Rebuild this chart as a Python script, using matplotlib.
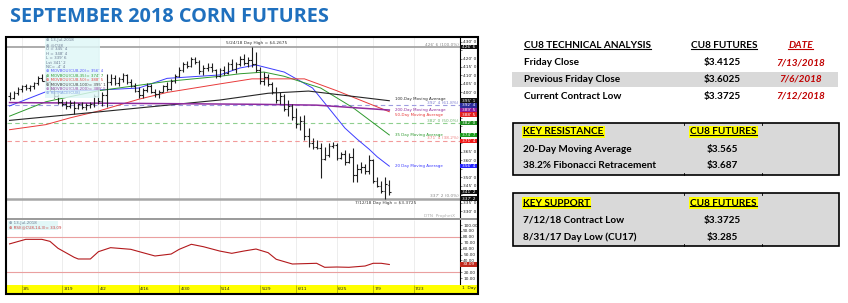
import matplotlib
matplotlib.use("Agg")
import matplotlib.pyplot as plt
import matplotlib.patches as mpatches
from matplotlib.lines import Line2D
import numpy as np
import pandas as pd

# ------------------------------------------------------------------ data
title = "SEPTEMBER 2018 CORN FUTURES"
holidays = ["2018-03-30", "2018-05-28", "2018-07-04"]
first_day, axis_end = "2018-02-28", "2018-07-31"

# daily OHLC in cents, 2/28 .. 7/13
opens = [398, 397, 399.5, 402, 403.5, 402.5, 403.75, 405.5, 408.5, 407, 406, 402, 398, 394.5, 393, 392, 394, 391, 393, 391.5, 392.5, 393,
         398, 395, 398.5, 406, 408.5, 405.5, 408, 410, 406, 404, 401, 398.5, 401.5, 404, 400.5, 399, 400.5, 403.5, 402, 407, 409.5,
         413.5, 416.5, 415.5, 419.5, 418, 412.5, 414.5, 415, 413, 409.5, 413.5, 411.5, 417, 414, 416.5, 420, 417.5, 419, 417, 413.5, 407, 409,
         405, 400.5, 395.5, 398, 390.5, 392, 385.5, 381.5, 383, 374, 370, 368, 367.5, 361, 363, 368.5, 369, 361.5, 363.5, 359, 362,
         351, 355, 356, 353.5, 360.25, 348, 345, 342, 345.5]
highs = [400, 401, 403, 404.5, 405, 404.5, 406, 409.5, 411, 410, 407, 403, 399, 396, 395, 395.5, 395, 394, 394.5, 393.5, 394.5, 399,
         403, 400, 411, 411, 410.5, 409, 411.5, 411, 408, 405.5, 403, 402.5, 405.5, 405, 402, 401.5, 404.5, 406, 408, 411, 415,
         418, 418.5, 421, 421, 419, 416, 417.5, 417.5, 414, 414.5, 415.5, 418, 419.5, 418, 421.5, 422.5, 421, 426.75, 424, 415, 412, 411,
         406, 403, 400, 399, 395.5, 393, 391, 386, 386.5, 379, 373, 372, 370, 368, 370, 371, 370, 365, 366, 364, 367,
         358, 359, 358, 363, 360.5, 350, 348, 350, 348.5]
lows = [395.5, 396, 398.5, 400, 401.5, 401, 402, 404.5, 406.5, 405, 401, 397, 393, 392, 390.5, 391, 387.5, 390, 390, 389.5, 391, 391.5,
        393, 392, 391.5, 404.5, 404.5, 403.5, 406, 405, 403, 400, 397, 396.5, 400.5, 399.5, 397.5, 397, 400, 401, 401.5, 405.5, 409,
        412, 414.5, 415, 416.5, 411, 410, 412.5, 412, 408.5, 409, 410.5, 411, 413, 411.5, 415.5, 416, 415, 415, 412, 405, 404.5, 404,
        399, 394, 393, 389, 386, 384, 379, 378, 372, 368, 366.5, 366.5, 349.5, 360, 362, 367.5, 360, 361, 357, 358.5, 347,
        347, 352.5, 352, 352, 346.5, 344, 340.5, 337.25, 339.75]
closes = [397, 399.5, 402, 403.5, 402.5, 403.75, 405.5, 408.5, 407, 406, 402, 398, 394.5, 393, 392, 394, 391, 393, 391.5, 392.5, 393, 398,
          395, 398.5, 406, 408.5, 405.5, 408, 410, 406, 404, 401, 398.5, 401.5, 404, 400.5, 399, 400.5, 403.5, 402, 407, 409.5, 413.5,
          416.5, 415.5, 419.5, 418, 412.5, 414.5, 415, 413, 409.5, 413.5, 411.5, 417, 414, 416.5, 420, 417.5, 419, 417, 413.5, 407, 409, 405,
          400.5, 395.5, 398, 390.5, 392, 385.5, 381.5, 383, 374, 370, 368, 367.5, 361, 363, 368.5, 369, 361.5, 363.5, 359, 362, 351,
          355, 356, 353.5, 360.25, 348, 345, 342, 345.75, 341.25]

# moving averages (cents)
ma20_dates = ["2018-02-28", "2018-03-13", "2018-04-02", "2018-04-16", "2018-04-25", "2018-05-14", "2018-05-21", "2018-05-25",
              "2018-06-06", "2018-06-15", "2018-06-21", "2018-06-27", "2018-07-02", "2018-07-06", "2018-07-10", "2018-07-13"]
ma20_vals = [392, 400.4, 401.4, 402.6, 408.3, 410.3, 414.4, 416.2, 412, 402.6, 390.8, 379, 372.5, 366.5, 362, 356.5]
ma35_dates = ["2018-02-28", "2018-03-13", "2018-04-02", "2018-04-25", "2018-05-14", "2018-05-21", "2018-05-30", "2018-06-06",
              "2018-06-19", "2018-06-29", "2018-07-13"]
ma35_vals = [386, 394.5, 401, 406.5, 409.5, 411, 412, 409.5, 402.6, 391, 374.9]
ma50_dates = ["2018-02-28", "2018-03-13", "2018-03-21", "2018-04-02", "2018-04-16", "2018-04-25", "2018-05-14", "2018-05-24",
              "2018-06-13", "2018-06-25", "2018-07-13"]
ma50_vals = [378, 381, 385, 389, 396, 400, 405, 408, 408, 401, 388.6]
ma100_dates = ["2018-02-28", "2018-04-02", "2018-05-14", "2018-05-31", "2018-06-14", "2018-07-13"]
ma100_vals = [383.5, 388.5, 395.5, 399.5, 400.8, 395.1]
ma200_dates = ["2018-02-28", "2018-04-16", "2018-05-25", "2018-06-18", "2018-07-13"]
ma200_vals = [394, 393.5, 393, 392.5, 389.6]

fib_vals = [426.75, 392.56, 382.0, 371.44, 337.25]
fib_pcts = ["100.0%", "61.8%", "50.0%", "38.2%", "0.0%"]

rsi_dates = ["2018-02-28", "2018-03-06", "2018-03-12", "2018-03-14", "2018-03-16", "2018-03-22", "2018-03-23", "2018-03-28",
             "2018-04-02", "2018-04-05", "2018-04-12", "2018-04-17", "2018-04-20", "2018-04-26", "2018-04-30", "2018-05-03",
             "2018-05-08", "2018-05-14", "2018-05-17", "2018-05-22", "2018-05-25", "2018-05-31", "2018-06-04", "2018-06-08",
             "2018-06-18", "2018-06-20", "2018-06-25", "2018-06-28", "2018-07-05", "2018-07-09", "2018-07-11", "2018-07-13"]
rsi_vals = [68, 75.7, 75.7, 72.3, 60.5, 45.2, 42.4, 42.4, 54.8, 61.6, 58.8, 53.1, 47.5, 50.8, 58.8, 67.3,
            63.2, 55.9, 52, 55.9, 59.3, 53.1, 41.9, 33.9, 35.1, 28.3, 28.8, 28.3, 30.5, 35.1, 35.1, 33.09]
rsi_bands = [80, 20]

date_ticks = ["2018-03-05", "2018-03-19", "2018-04-02", "2018-04-16", "2018-04-30", "2018-05-14",
              "2018-05-29", "2018-06-11", "2018-06-25", "2018-07-09", "2018-07-23"]
date_labels = ["3/5", "3/19", "4/2", "4/16", "4/30", "5/14", "5/29", "6/11", "6/25", "7/9", "7/23"]
price_ticks = list(range(330, 431, 5))
rsi_ticks = list(range(10, 101, 10))

high_note = "5/24/18 Day High = $4.2675"
low_note = "7/12/18 Day High = $3.3725"

ta_header = ["CU8 TECHNICAL ANALYSIS", "CU8 FUTURES", "DATE"]
ta_rows = [("Friday Close", "$3.4125", "7/13/2018"),
           ("Previous Friday Close", "$3.6025", "7/6/2018"),
           ("Current Contract Low", "$3.3725", "7/12/2018")]
res_header = ["KEY RESISTANCE", "CU8 FUTURES"]
res_rows = [("20-Day Moving Average", "$3.565"), ("38.2% Fibonacci Retracement", "$3.687")]
sup_header = ["KEY SUPPORT", "CU8 FUTURES"]
sup_rows = [("7/12/18 Contract Low", "$3.3725"), ("8/31/17 Day Low (CU17)", "$3.285")]

# ------------------------------------------------------------------ helpers
W, H = 848, 303
fig = plt.figure(figsize=(W / 100, H / 100), dpi=100)
fig.patch.set_facecolor("white")


def fx(x):
    return x / W


def fy(y):
    return 1 - y / H


def axes_px(x0, y0, x1, y1):
    return fig.add_axes([fx(x0), fy(y1), (x1 - x0) / W, (y1 - y0) / H])


def eighths(v):
    sign = "-" if v < 0 else ""
    v = abs(v)
    whole = int(np.floor(v + 1e-9))
    frac = int(round((v - whole) * 8))
    if frac == 8:
        whole, frac = whole + 1, 0
    return f"{sign}{whole}' {frac}"


def fig_rect(x0, y0, x1, y1, **kw):
    r = mpatches.Rectangle((fx(x0), fy(y1)), (x1 - x0) / W, (y1 - y0) / H,
                           transform=fig.transFigure, **kw)
    fig.add_artist(r)
    return r


days = pd.bdate_range(first_day, axis_end)
days = days[~days.isin(pd.to_datetime(holidays))]
pos = {d.strftime("%Y-%m-%d"): i for i, d in enumerate(days)}


def xi(dates):
    return np.array([pos[d] for d in dates], dtype=float)


n = len(opens)
xs = np.arange(n)
PX0, PXW = 9.56, 4.04          # pixel position of bar 0, pixels per bar


def xlim_px(L, R):
    return ((L - PX0) / PXW, (R - PX0) / PXW)


TINY = 3.1

# ------------------------------------------------------------------ price panel
axp = axes_px(7, 37, 460, 217.5)
axp.set_xlim(*xlim_px(7, 460))
axp.set_ylim(326.2, 432.7)
for s in ["left", "top", "bottom"]:
    axp.spines[s].set_visible(False)
axp.spines["right"].set_linewidth(0.8)
axp.set_xticks([])
axp.yaxis.tick_right()
axp.tick_params(axis="y", labelsize=TINY, length=1.5, width=0.4, pad=0.8, colors="#222222")

tick_x = xi(date_ticks)
axp.vlines(tick_x, 326.2, 432.7, color="#e6e6e6", lw=0.5, zorder=0)

fib_colors = ["#a6a6a6", "#9d9de0", "#8fcf8f", "#f29a9a", "#a6a6a6"]
fib_text_colors = ["#8a8a8a", "#7f7fd0", "#6fb56f", "#ee7f7f", "#8a8a8a"]
for v, p, c, tc in zip(fib_vals, fib_pcts, fib_colors, fib_text_colors):
    if p in ("100.0%", "0.0%"):
        axp.axhline(v, color=c, lw=1.3 if p == "100.0%" else 1.8, zorder=1)
    else:
        axp.axhline(v, color=c, lw=0.8, dashes=(4, 3), zorder=1)
    axp.annotate(f"{eighths(v)} ({p})", xy=(0.997, v), xycoords=axp.get_yaxis_transform(),
                 xytext=(0, 0.3), textcoords="offset points", ha="right", va="bottom",
                 fontsize=TINY, color=tc)

# OHLC bars
bar_col = "#1e1e1e"
axp.vlines(xs, lows, highs, color=bar_col, lw=0.8, zorder=3)
axp.hlines(opens, xs - 0.42, xs, color=bar_col, lw=0.8, zorder=3)
axp.hlines(closes, xs, xs + 0.42, color=bar_col, lw=0.8, zorder=3)

ma_specs = [
    ("20 Day Moving Average", ma20_dates, ma20_vals, "#3b3bff", 0.7),
    ("35 Day Moving Average", ma35_dates, ma35_vals, "#2e9a2e", 0.7),
    ("50-Day Moving Average", ma50_dates, ma50_vals, "#e83a3a", 0.7),
    ("100-Day Moving Average", ma100_dates, ma100_vals, "#262626", 0.8),
    ("200-Day Moving Average", ma200_dates, ma200_vals, "#8e2a9e", 1.1),
]
for name, d, v, c, lw in ma_specs:
    axp.plot(xi(d), v, color=c, lw=lw, zorder=2)

# MA labels near right end (stacked so they do not overlap)
lab_items = sorted([(v[-1], name, c) for name, d, v, c, lw in ma_specs], reverse=True)
prev = None
for val, name, c in lab_items:
    if prev is None:
        y = val + 1.3
    else:
        y = min(val, prev - 2.66)
    prev = y
    axp.text(n + 0.3, y, name, fontsize=2.85, color=c, ha="left", va="center", zorder=4)

# value boxes on the right axis
last_close = closes[-1]
box_items = [
    (fib_vals[0], "#111111"), (ma100_vals[-1], "#111111"), (fib_vals[1], "#2b2b9a"),
    (ma200_vals[-1], "#8b1a9b"), (ma50_vals[-1], "#e32020"), (fib_vals[2], "#1b8a1b"),
    (ma35_vals[-1], "#1b9a1b"), (fib_vals[3], "#f01818"), (ma20_vals[-1], "#2424ff"),
    (last_close, "#111111"), (fib_vals[4], "#111111"),
]
box_items.sort(key=lambda t: -t[0])
ytr = axp.get_yaxis_transform()
bw = 16.5 / 453
bh = 2.7
prev = None
box_pos = []
for val, c in box_items:
    y = val if prev is None else min(val, prev - 2.75)
    prev = y
    box_pos.append(y)
    axp.add_patch(mpatches.Rectangle((1.0, y - bh / 2), bw, bh, transform=ytr,
                                     fc=c, ec="none", clip_on=False, zorder=6))
    axp.text(1.0 + bw / 2, y, eighths(val), transform=ytr, ha="center", va="center",
             fontsize=TINY, color="white", clip_on=False, zorder=7)

# axis labels hidden where a value box sits on top of them
axp.set_yticks(price_ticks)
axp.set_yticklabels(["" if min(abs(t - b) for b in box_pos) < 2.2 else eighths(t) for t in price_ticks])

# notes
hi_i = int(np.argmax(highs))
lo_i = int(np.argmin(lows))
axp.annotate(high_note, xy=(hi_i, highs[hi_i]), xytext=(3.6, 1.2), textcoords="offset points",
             ha="center", va="bottom", fontsize=TINY, color="#333333")
axp.annotate(low_note, xy=(lo_i, lows[lo_i]), xytext=(0, -1.4), textcoords="offset points",
             ha="center", va="top", fontsize=TINY, color="#333333")
fig.text(fx(455), fy(215.5), "DTN  ProphetX", fontsize=TINY, color="#b0b0b0", ha="right", va="center")

# legend box (top left)
fig_rect(45, 37.5, 100, 98, fc="#dff7f7", ec="none", alpha=0.82, zorder=5)
prev_close = closes[-2]
leg_lines = [
    ("\u2295 13-Jul-2018", "#6a7890"),
    ("\u2295 @CU8", "#6a7890"),
    (f"O = {eighths(opens[-1])}", "#6a7890"),
    (f"H = {eighths(highs[-1])}", "#6a7890"),
    (f"L = {eighths(lows[-1])}", "#6a7890"),
    (f"Lst {eighths(last_close)}", "#6a7890"),
    (f"NC= {eighths(last_close - prev_close)}", "#6a7890"),
    (f"\u2295 MOVBOU(CU8,20)= {eighths(ma20_vals[-1])}", "#5a5aff"),
    (f"\u2295 MOVBOU(CU8,35)= {eighths(ma35_vals[-1])}", "#3aa03a"),
    (f"\u2295 MOVBOU(CU8,50)= {eighths(ma50_vals[-1])}", "#e84a4a"),
    (f"\u2295 MOVBOU(CU8,100)= {eighths(ma100_vals[-1])}", "#444444"),
    (f"\u2295 MOVBOU(CU8,200)= {eighths(ma200_vals[-1])}", "#9a4aaa"),
    ("\u2295 RETRACE(CU8)", "#7fa0e0"),
]
for k, (s, c) in enumerate(leg_lines):
    fig.text(fx(46.5), fy(40.5 + 4.4 * k), s, fontsize=2.9, color=c, ha="left", va="center", zorder=6)

# ------------------------------------------------------------------ RSI panel
axr = axes_px(7, 220, 460, 284.5)
axr.set_xlim(*xlim_px(7, 460))
axr.set_ylim(-0.85, 108.5)
for s in ["left", "top", "bottom"]:
    axr.spines[s].set_visible(False)
axr.spines["right"].set_linewidth(0.8)
axr.set_xticks([])
axr.yaxis.tick_right()
axr.set_yticks(rsi_ticks)
axr.set_yticklabels(["" if abs(v - rsi_vals[-1]) < 5 else f"{v:.2f}" for v in rsi_ticks])
axr.tick_params(axis="y", labelsize=TINY, length=1.5, width=0.4, pad=0.8, colors="#222222")
axr.vlines(tick_x, -0.85, 108.5, color="#e6e6e6", lw=0.5, zorder=0)
for b in rsi_bands:
    axr.axhline(b, color="#eaa0a0", lw=0.8, zorder=1)
axr.plot(xi(rsi_dates), rsi_vals, color="#b3191c", lw=0.8, zorder=3)
rtr = axr.get_yaxis_transform()
axr.add_patch(mpatches.Rectangle((1.0, rsi_vals[-1] - 3.6), bw, 7.2, transform=rtr,
                                 fc="#c0281c", ec="none", clip_on=False, zorder=6))
axr.text(1.0 + bw / 2, rsi_vals[-1], f"{rsi_vals[-1]:.2f}", transform=rtr, ha="center", va="center",
         fontsize=TINY, color="white", clip_on=False, zorder=7)
fig_rect(7.5, 220.5, 58, 230, fc="#dff7f7", ec="none", alpha=0.9, zorder=5)
fig.text(fx(9), fy(222.6), "\u2295 13-Jul-2018", fontsize=2.9, color="#6a7890", va="center", zorder=6)
fig.text(fx(9), fy(227.3), f"\u2295 RSI(@CU8,14,3)= {rsi_vals[-1]:.2f}", fontsize=2.9,
         color="#c84040", va="center", zorder=6)

# ------------------------------------------------------------------ date strip
axd = axes_px(7, 284.5, 477, 292.5)
axd.set_facecolor("#ffff00")
axd.set_xlim(*xlim_px(7, 477))
axd.set_ylim(0, 1)
for s in axd.spines.values():
    s.set_visible(False)
axd.set_xticks([])
axd.set_yticks([])
axd.vlines(tick_x, 0, 1, color="#8a8a00", lw=0.4)
for tx, lab in zip(tick_x, date_labels):
    axd.text(tx + 0.35, 0.5, lab, fontsize=TINY, va="center", ha="left", color="#222222")
axd.text(xlim_px(7, 477)[1] - 0.4, 0.5, "1  Day", fontsize=TINY, va="center", ha="right", color="#222222")

# separators and frame
fig_rect(7, 217.5, 477, 220, fc="#9c9c9c", ec="none", zorder=4)
fig_rect(5.5, 36.5, 477.5, 293.5, fc="none", ec="black", lw=1.5, zorder=8)

# ------------------------------------------------------------------ title
fig.text(fx(9.5), fy(17.5), title, fontfamily="Open Sans", fontweight="bold", fontsize=14.3,
         color="#1f70be", va="center", ha="left")

# ------------------------------------------------------------------ tables
TF = "Lato"
TS = 7.2
RED = "#c00000"
underlines = []


def T(x, y, s, ha="left", color="black", style="normal", under=False, hl=False, size=TS):
    kw = {}
    if hl:
        kw["bbox"] = dict(boxstyle="square,pad=0.12", fc="#ffff00", ec="none")
    t = fig.text(fx(x), fy(y), s, fontfamily=TF, fontweight="bold", fontstyle=style, fontsize=size,
                 color=color, ha=ha, va="center", zorder=10, **kw)
    if under:
        underlines.append((t, color))
    return t


# table 1
fig_rect(512, 71.5, 838, 87, fc="#d9d9d9", ec="none", zorder=2)
T(524, 45.7, ta_header[0], under=True)
T(724, 45.7, ta_header[1], ha="center", under=True)
T(800.5, 45.7, ta_header[2], ha="center", color=RED, style="italic", under=True)
for (lab, val, dt), y in zip(ta_rows, [62.7, 79.3, 96]):
    T(524, y, lab)
    T(722, y, val, ha="center")
    T(800.5, y, dt, ha="center", color=RED, style="italic")


def boxed_table(y0, y1, header, rows, ys, hy):
    fig_rect(512.7, y0, 839, y1, fc="#d9d9d9", ec="black", lw=1.2, zorder=2)
    for cx in (684, 762):
        fig.add_artist(Line2D([fx(cx), fx(cx)], [fy(y0), fy(y0 + 2)], transform=fig.transFigure,
                              color="black", lw=0.6, zorder=3))
        fig.add_artist(Line2D([fx(cx), fx(cx)], [fy(y1 - 2), fy(y1)], transform=fig.transFigure,
                              color="black", lw=0.6, zorder=3))
    T(523, hy, header[0], under=True, hl=True)
    T(723.5, hy, header[1], ha="center", under=True, hl=True)
    for (lab, val), y in zip(rows, ys):
        T(523, y, lab)
        T(722, y, val, ha="center")


boxed_table(122.7, 175, res_header, res_rows, [149, 165.3], 132)
boxed_table(193.3, 246, sup_header, sup_rows, [220, 237.3], 203)

fig.canvas.draw()
rend = fig.canvas.get_renderer()
for t, c in underlines:
    bb = t.get_window_extent(rend)
    yy = bb.y0 + 1.3
    fig.add_artist(Line2D([bb.x0 / W, bb.x1 / W], [yy / H, yy / H], transform=fig.transFigure,
                          color=c, lw=0.8, zorder=11))

fig.savefig("out.png", dpi=100)
